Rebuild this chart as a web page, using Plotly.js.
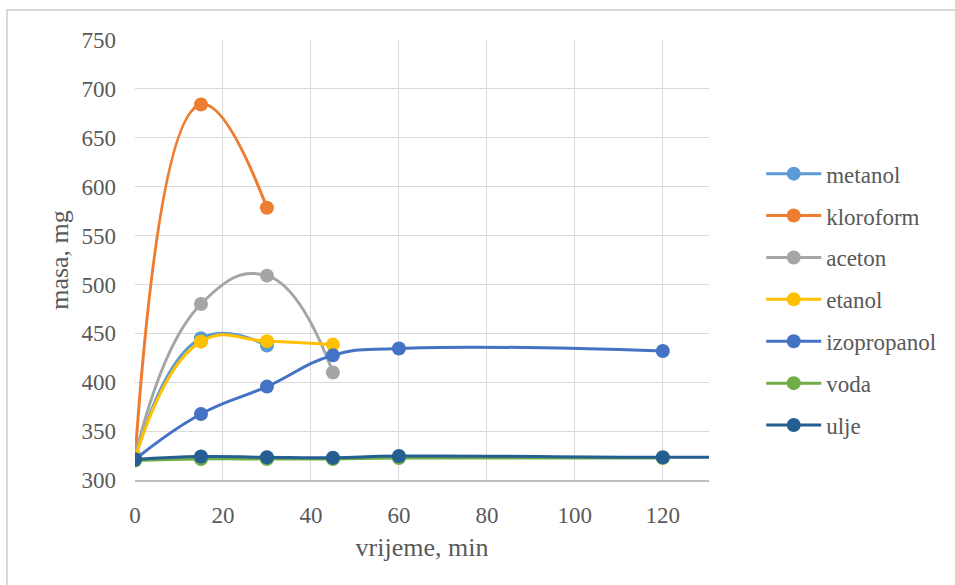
<!DOCTYPE html>
<html>
<head>
<meta charset="utf-8">
<script src="https://cdn.plot.ly/plotly-3.0.1.min.js"></script>
<style>
  html, body { margin: 0; padding: 0; background: #ffffff; overflow: hidden; }
  #frame { position: absolute; left: 6px; top: 9px; width: 1200px; height: 900px; border: 2px solid #d9d9d9; box-sizing: border-box; }
  #chart { position: absolute; left: 0; top: 0; width: 955px; height: 585px; }
</style>
</head>
<body>
<div id="frame"></div>
<div id="chart"></div>
<script>
// ---- data ----
const seriesNames = ["metanol", "kloroform", "aceton", "etanol", "izopropanol", "voda", "ulje"];
const seriesColors = ["#5B9BD5", "#ED7D31", "#A5A5A5", "#FFC000", "#4472C4", "#70AD47", "#255E91"];

const metanolTime = [0, 15, 30];
const metanolMass = [322, 445, 437.5];

const kloroformTime = [0, 15, 30];
const kloroformMass = [322, 684, 578.5];

const acetonTime = [0, 15, 30, 45];
const acetonMass = [324, 480, 509, 410];

const etanolTime = [0, 15, 30, 45];
const etanolMass = [322, 441.5, 442, 438.5];

const izopropanolTime = [0, 15, 30, 45, 60, 120];
const izopropanolMass = [321, 367.5, 395.5, 427.5, 434.5, 432];

const vodaTime = [0, 15, 30, 45, 60, 120];
const vodaMass = [320, 321.5, 321.5, 321.5, 322.5, 322.5];

const uljeTime = [0, 15, 30, 45, 60, 120, 180];
const uljeMass = [321, 324, 323.2, 322.8, 324.5, 323.2, 323.2];

const xTicks = [0, 20, 40, 60, 80, 100, 120];
const yTicks = [300, 350, 400, 450, 500, 550, 600, 650, 700, 750];

const times = [metanolTime, kloroformTime, acetonTime, etanolTime, izopropanolTime, vodaTime, uljeTime];
const masses = [metanolMass, kloroformMass, acetonMass, etanolMass, izopropanolMass, vodaMass, uljeMass];

const FONT = "'Liberation Serif', 'Times New Roman', Times, serif";
const TXT = "#595959";

const traces = seriesNames.map((name, i) => ({
  type: "scatter",
  mode: "lines+markers",
  name: name,
  legendgroup: name,
  x: times[i],
  y: masses[i],
  cliponaxis: true,
  line: { color: seriesColors[i], width: 3, shape: "spline", smoothing: 1.3 },
  marker: { color: seriesColors[i], size: 14 }
}));

const layout = {
  width: 955,
  height: 585,
  paper_bgcolor: "rgba(0,0,0,0)",
  plot_bgcolor: "rgba(0,0,0,0)",
  margin: { l: 135, r: 246, t: 40, b: 105 },
  font: { family: FONT, color: TXT, size: 23 },
  showlegend: true,
  legend: {
    x: 1.091, xanchor: "left",
    y: 0.745, yanchor: "top",
    font: { family: FONT, color: TXT, size: 23 },
    itemwidth: 55,
    tracegroupgap: 9,
    traceorder: "grouped",
    bgcolor: "rgba(0,0,0,0)"
  },
  xaxis: {
    range: [0, 130.5],
    tickvals: xTicks,
    ticktext: xTicks.map(String),
    showgrid: true,
    gridcolor: "#d9d9d9",
    gridwidth: 1,
    zeroline: false,
    showline: true,
    linecolor: "#bfbfbf",
    linewidth: 1.5,
    ticks: "",
    ticklabelstandoff: 14,
    tickfont: { family: FONT, color: TXT, size: 23 },
    title: { text: "vrijeme, min", font: { family: FONT, color: TXT, size: 26 }, standoff: 10 }
  },
  yaxis: {
    range: [300, 750],
    tickvals: yTicks,
    ticktext: yTicks.map(String),
    showgrid: true,
    gridcolor: "#d9d9d9",
    gridwidth: 1,
    zeroline: false,
    showline: false,
    ticks: "",
    ticklabelstandoff: 18,
    tickfont: { family: FONT, color: TXT, size: 23 },
    title: { text: "masa, mg", font: { family: FONT, color: TXT, size: 26 }, standoff: 5 }
  }
};

Plotly.newPlot("chart", traces, layout, { displayModeBar: false, staticPlot: true });
</script>
</body>
</html>
